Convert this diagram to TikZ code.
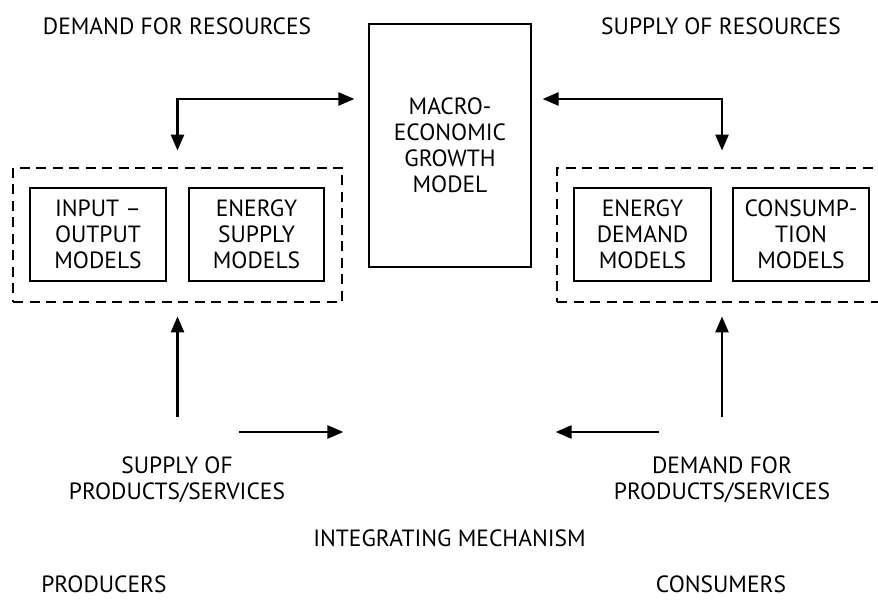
\documentclass[tikz,border=0pt]{standalone}
\usepackage{fontspec}
\setmainfont{PT Sans}
\usetikzlibrary{arrows.meta}

\tikzset{
  model/.style={draw, line width=1.2pt, align=center, inner sep=0pt},
  group/.style={draw, line width=2.8pt, dash pattern=on 10pt off 6.5pt},
  flow/.style={line width=2.5pt},
  txt/.style={align=center, inner sep=0pt}
}

\begin{document}
\begin{tikzpicture}[x=1pt, y=-1pt, >={Triangle[length=16pt,width=13pt]},
  font=\fontsize{23.5}{26}\selectfont]
\useasboundingbox (0,0) rectangle (878,601);
\clip (0,0) rectangle (878,601);

% nodes
\node[txt] (dres) at (177,26) {DEMAND FOR RESOURCES};
\node[txt] (sres) at (721,26) {SUPPLY OF RESOURCES};
\node[model, minimum width=162pt, minimum height=243pt] (macro) at (450,145.5) {MACRO-\\ECONOMIC\\GROWTH\\MODEL};

\node[model, minimum width=136pt, minimum height=93pt] (io) at (98,234.5) {INPUT –\\OUTPUT\\MODELS};
\node[model, minimum width=135pt, minimum height=93pt] (esup) at (256.5,234.5) {ENERGY\\SUPPLY\\MODELS};
\node[model, minimum width=137pt, minimum height=93pt] (edem) at (642.5,234.5) {ENERGY\\DEMAND\\MODELS};
\node[model, minimum width=136pt, minimum height=93pt] (cons) at (801,234.5) {CONSUMP-\\TION\\MODELS};
\node[group, minimum width=329pt, minimum height=134pt] (prod) at (177.5,235) {};
\node[group, minimum width=330pt, minimum height=134pt] (cmod) at (722,235) {};

\node[txt] (sps) at (177,479.5) {SUPPLY OF\\PRODUCTS/SERVICES};
\node[txt] (dps) at (722,479.5) {DEMAND FOR\\PRODUCTS/SERVICES};
\node[txt] (integ) at (449.5,538.5) {INTEGRATING MECHANISM};
\node[txt] (prodr) at (104,584) {PRODUCERS};
\node[txt] (consr) at (721,584) {CONSUMERS};

\coordinate (ltop) at (177.5,99);
\coordinate (rtop) at (722,99);
\coordinate (lbot) at (177.5,417);
\coordinate (rbot) at (722,417);
\coordinate (lsend) at (239,432);
\coordinate (rsend) at (659,432);

% arrows
\draw[flow, <->, shorten <=16pt, shorten >=14pt] (prod.north) |- (macro.west |- ltop);
\draw[flow, <->, shorten <=16pt, shorten >=11pt] (cmod.north) |- (macro.east |- rtop);
\draw[flow, ->, shorten >=13pt] (lbot) -- (prod.south);
\draw[flow, ->, shorten >=13pt] (rbot) -- (cmod.south);
\draw[flow, ->] (lsend) -- (prod.east |- lsend);
\draw[flow, ->] (rsend) -- (cmod.west |- rsend);
\end{tikzpicture}
\end{document}
